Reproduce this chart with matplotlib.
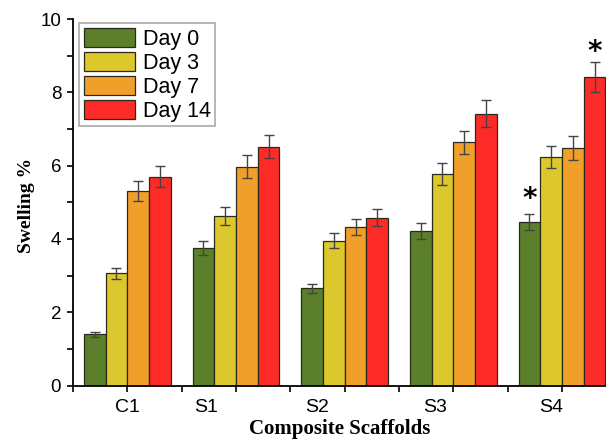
import numpy as np
import matplotlib.pyplot as plt
from matplotlib.ticker import MultipleLocator

# ========================================================
# DATA

GROUPS = ["C1", "S1", "S2", "S3", "S4"]
DAYS = ["Day 0", "Day 3", "Day 7", "Day 14"]
COLORS = ["#5b7f2b", "#dcc82c", "#f0a02a", "#fd2b27"]

DAY0 = [1.40, 3.75, 2.65, 4.22, 4.46]
DAY3 = [3.06, 4.62, 3.95, 5.77, 6.23]
DAY7 = [5.31, 5.97, 4.33, 6.64, 6.48]
DAY14 = [5.70, 6.52, 4.58, 7.42, 8.42]

ERR0 = [0.07, 0.19, 0.12, 0.21, 0.22]
ERR3 = [0.15, 0.24, 0.20, 0.30, 0.30]
ERR7 = [0.27, 0.31, 0.22, 0.31, 0.32]
ERR14 = [0.29, 0.32, 0.23, 0.37, 0.42]

# tick label positions as they sit in the original (not centred on groups)
LABEL_POS = [0.0, 0.72, 1.75, 2.83, 3.90]

# ========================================================
# PLOT

fig = plt.figure(figsize=(6.06, 4.41), dpi=100)
ax = fig.add_axes([73 / 606, 1 - 385.5 / 441, (606 - 73) / 606, 366.5 / 441])

x = np.arange(len(GROUPS))
width = 0.2
series = [DAY0, DAY3, DAY7, DAY14]
errors = [ERR0, ERR3, ERR7, ERR14]
for i, (vals, errs) in enumerate(zip(series, errors)):
    ax.bar(
        x + (i - 1.5) * width,
        vals,
        width,
        yerr=errs,
        color=COLORS[i],
        edgecolor="#2a2a1a",
        linewidth=0.9,
        label=DAYS[i],
        error_kw=dict(ecolor="#444444", elinewidth=1.0, capsize=3.5, capthick=1.0),
    )

# significance marks
ax.text(x[4] - 1.5 * width, DAY0[4] + ERR0[4] + 0.42, "*", ha="center", va="center",
        fontsize=20, fontweight="bold")
ax.text(x[4] + 1.5 * width, DAY14[4] + ERR14[4] + 0.26, "*", ha="center", va="center",
        fontsize=20, fontweight="bold")

ax.set_xlim(-0.5, 4.405)
ax.set_ylim(0, 10)

ax.spines["top"].set_visible(False)
ax.spines["right"].set_visible(False)
ax.spines["left"].set_linewidth(1.3)
ax.spines["bottom"].set_linewidth(1.3)

ax.yaxis.set_major_locator(MultipleLocator(2))
ax.yaxis.set_minor_locator(MultipleLocator(1))
ax.tick_params(axis="y", which="both", direction="out", length=4.5, width=1.2,
               labelsize=13.5, pad=4)

ax.xaxis.remove_overlapping_locs = False
ax.set_xticks(LABEL_POS)
ax.set_xticklabels(GROUPS)
ax.xaxis.set_minor_locator(MultipleLocator(0.5))
ax.tick_params(axis="x", which="major", length=0, labelsize=14, pad=10)
ax.tick_params(axis="x", which="minor", direction="out", length=4, width=1.2)

for lab in ax.get_xticklabels() + ax.get_yticklabels():
    lab.set_fontfamily("Liberation Sans")

ax.set_ylabel("Swelling %", fontfamily="Liberation Serif", fontweight="bold", fontsize=14)
ax.yaxis.set_label_coords(-0.072, 0.49)
ax.set_xlabel("Composite Scaffolds", fontfamily="Liberation Serif", fontweight="bold",
              fontsize=15, labelpad=2)

leg = ax.legend(
    loc="upper left",
    bbox_to_anchor=(0.012, 0.988),
    borderaxespad=0,
    prop={"family": "Liberation Sans", "size": 15.5},
    handlelength=2.4,
    handleheight=1.0,
    handletextpad=0.35,
    labelspacing=0.1,
    borderpad=0.2,
    fancybox=False,
    framealpha=1,
)
leg.get_frame().set_edgecolor("#aaaaaa")
leg.get_frame().set_linewidth(1.2)

plt.savefig("out.png", dpi=100)
